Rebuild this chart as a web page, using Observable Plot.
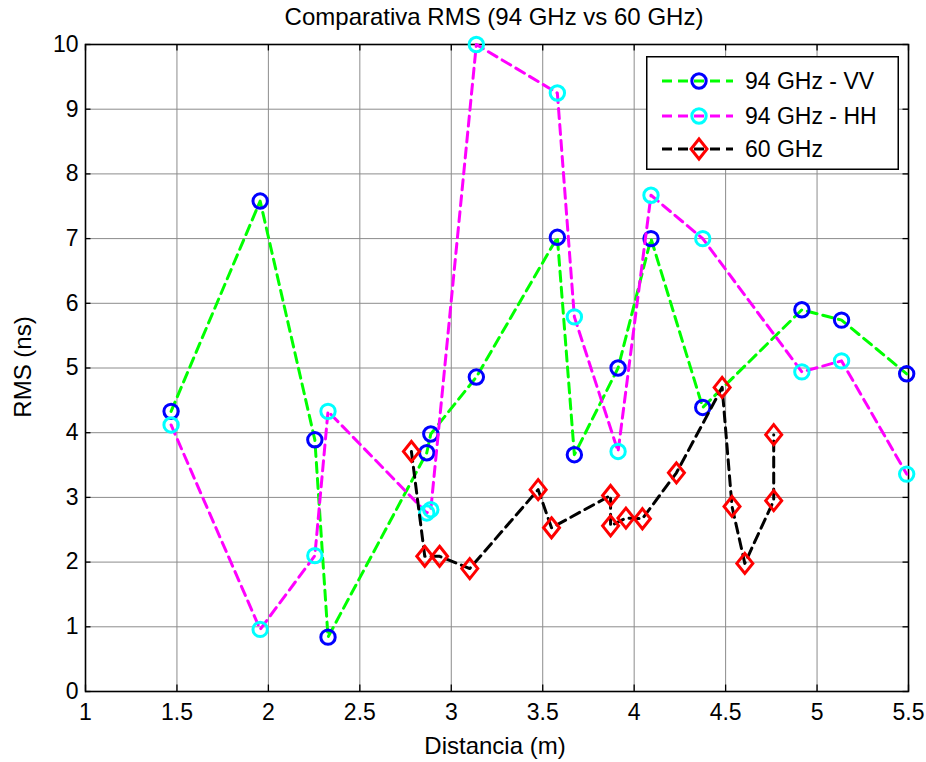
<!DOCTYPE html>
<html>
<head>
<meta charset="utf-8">
<script src="https://cdn.jsdelivr.net/npm/d3@7"></script>
<script src="https://cdn.jsdelivr.net/npm/@observablehq/plot@0.6"></script>
<style>
  html, body { margin: 0; padding: 0; background: #fff; }
  #wrap { position: relative; width: 926px; height: 762px; font-family: "Liberation Sans", Arial, sans-serif; color: #000; }
  #wrap > svg { position: absolute; left: 0; top: 0; }
  .lbl { position: absolute; font-size: 24px; white-space: nowrap; line-height: 1; }
</style>
</head>
<body>
<div id="wrap"></div>
<script>
// ---- data ----
const titleText = "Comparativa RMS (94 GHz vs 60 GHz)";
const xLabel = "Distancia (m)";
const yLabel = "RMS (ns)";
const seriesNames = ["94 GHz - VV", "94 GHz - HH", "60 GHz"];

const dist94 = [1.468, 1.955, 2.254, 2.326, 2.866, 2.888, 3.137, 3.580, 3.673, 3.912, 4.092, 4.375, 4.917, 5.134, 5.490];
const rmsVV  = [4.33, 7.58, 3.89, 0.84, 3.69, 3.98, 4.86, 7.02, 3.66, 5.00, 7.00, 4.39, 5.90, 5.74, 4.91];
const rmsHH  = [4.12, 0.96, 2.10, 4.33, 2.76, 2.81, 10.0, 9.25, 5.79, 3.71, 7.67, 7.00, 4.94, 5.11, 3.36];

const dist60 = [2.782, 2.855, 2.936, 3.101, 3.475, 3.548, 3.871, 3.871, 3.955, 4.045, 4.231, 4.481, 4.535, 4.605, 4.763, 4.763];
const rms60  = [3.71, 2.09, 2.09, 1.90, 3.12, 2.53, 3.03, 2.56, 2.68, 2.67, 3.38, 4.70, 2.86, 1.98, 2.95, 3.97];

const xTicks = [1, 1.5, 2, 2.5, 3, 3.5, 4, 4.5, 5, 5.5];
const yTicks = [0, 1, 2, 3, 4, 5, 6, 7, 8, 9, 10];

// ---- build tables ----
const vv = dist94.map((x, i) => ({x, y: rmsVV[i]}));
const hh = dist94.map((x, i) => ({x, y: rmsHH[i]}));
const g60 = dist60.map((x, i) => ({x, y: rms60[i]}));

const diamond = {
  draw(ctx, size) {
    const h = Math.sqrt(size / Math.PI);
    const w = h * 0.8;
    ctx.moveTo(0, -h); ctx.lineTo(w, 0); ctx.lineTo(0, h); ctx.lineTo(-w, 0); ctx.closePath();
  }
};

const dash = "10,6";
const lw = 3;
const mw = 3;
const xTickLen = 0.03, yTickLen = 0.1;
const fontFam = "'Liberation Sans', Arial, sans-serif";

const plot = Plot.plot({
  width: 926,
  height: 762,
  marginTop: 44,
  marginBottom: 71,
  marginLeft: 85,
  marginRight: 18,
  style: {fontSize: "23px", fontFamily: fontFam, color: "#000", background: "transparent"},
  x: {domain: [1, 5.5], ticks: xTicks, tickSize: 0, tickPadding: 12, tickFormat: d => String(d), label: null},
  y: {domain: [0, 10], ticks: yTicks, tickSize: 0, tickPadding: 7, tickFormat: d => String(d), label: null},
  marks: [
    Plot.ruleX(xTicks, {stroke: "#8c8c8c", strokeWidth: 1}),
    Plot.ruleY(yTicks, {stroke: "#8c8c8c", strokeWidth: 1}),
    // inward ticks on all sides
    Plot.ruleX(xTicks, {y1: 0, y2: yTickLen, stroke: "#000", strokeWidth: 1.3}),
    Plot.ruleX(xTicks, {y1: 10, y2: 10 - yTickLen, stroke: "#000", strokeWidth: 1.3}),
    Plot.ruleY(yTicks, {x1: 1, x2: 1 + xTickLen, stroke: "#000", strokeWidth: 1.3}),
    Plot.ruleY(yTicks, {x1: 5.5, x2: 5.5 - xTickLen, stroke: "#000", strokeWidth: 1.3}),
    Plot.frame({stroke: "#000", strokeWidth: 1.6}),
    // 94 GHz - VV
    Plot.line(vv, {x: "x", y: "y", stroke: "#00ff00", strokeWidth: lw, strokeDasharray: dash}),
    Plot.dot(vv, {x: "x", y: "y", r: 7.2, stroke: "#0000ff", strokeWidth: mw, fill: "none"}),
    // 94 GHz - HH
    Plot.line(hh, {x: "x", y: "y", stroke: "#ff00ff", strokeWidth: lw, strokeDasharray: dash}),
    Plot.dot(hh, {x: "x", y: "y", r: 7.2, stroke: "#00ffff", strokeWidth: mw, fill: "none"}),
    // 60 GHz
    Plot.line(g60, {x: "x", y: "y", stroke: "#000000", strokeWidth: lw, strokeDasharray: dash}),
    Plot.dot(g60, {x: "x", y: "y", r: 10, symbol: diamond, stroke: "#ff0000", strokeWidth: mw, fill: "none"})
  ]
});

const wrap = document.getElementById("wrap");
wrap.appendChild(plot);

// title and axis labels
function addLabel(text, css) {
  const d = document.createElement("div");
  d.className = "lbl";
  d.textContent = text;
  Object.assign(d.style, css);
  wrap.appendChild(d);
  return d;
}
addLabel(titleText, {left: "494px", top: "5px", transform: "translateX(-50%)"});
addLabel(xLabel, {left: "495px", top: "734px", transform: "translateX(-50%)"});
addLabel(yLabel, {left: "23px", top: "367px", transform: "translate(-50%,-50%) rotate(-90deg)"});

// legend
const lg = d3.select(wrap).append("svg")
  .attr("width", 253).attr("height", 114)
  .style("left", "646px").style("top", "56px");
lg.append("rect").attr("x", 0.75).attr("y", 0.75).attr("width", 251.5).attr("height", 112.5)
  .attr("fill", "#fff").attr("stroke", "#000").attr("stroke-width", 1.5);
const entries = [
  {name: seriesNames[0], line: "#00ff00", mark: "#0000ff", sym: "circle"},
  {name: seriesNames[1], line: "#ff00ff", mark: "#00ffff", sym: "circle"},
  {name: seriesNames[2], line: "#000000", mark: "#ff0000", sym: "diamond"}
];
const rowY = [25, 60, 93];
entries.forEach((e, i) => {
  const g = lg.append("g").attr("transform", `translate(0,${rowY[i]})`);
  g.append("line").attr("x1", 16).attr("x2", 87).attr("y1", 0).attr("y2", 0)
    .attr("stroke", e.line).attr("stroke-width", lw).attr("stroke-dasharray", dash);
  if (e.sym === "circle") {
    g.append("circle").attr("cx", 53).attr("cy", 0).attr("r", 7.2)
      .attr("fill", "none").attr("stroke", e.mark).attr("stroke-width", mw);
  } else {
    g.append("path").attr("transform", "translate(53,0)")
      .attr("d", d3.symbol().type(diamond).size(Math.PI * 100)())
      .attr("fill", "none").attr("stroke", e.mark).attr("stroke-width", mw);
  }
  g.append("text").attr("x", 99).attr("y", 0).attr("dy", "0.36em")
    .attr("font-size", 23).attr("font-family", fontFam)
    .text(e.name);
});
</script>
</body>
</html>
